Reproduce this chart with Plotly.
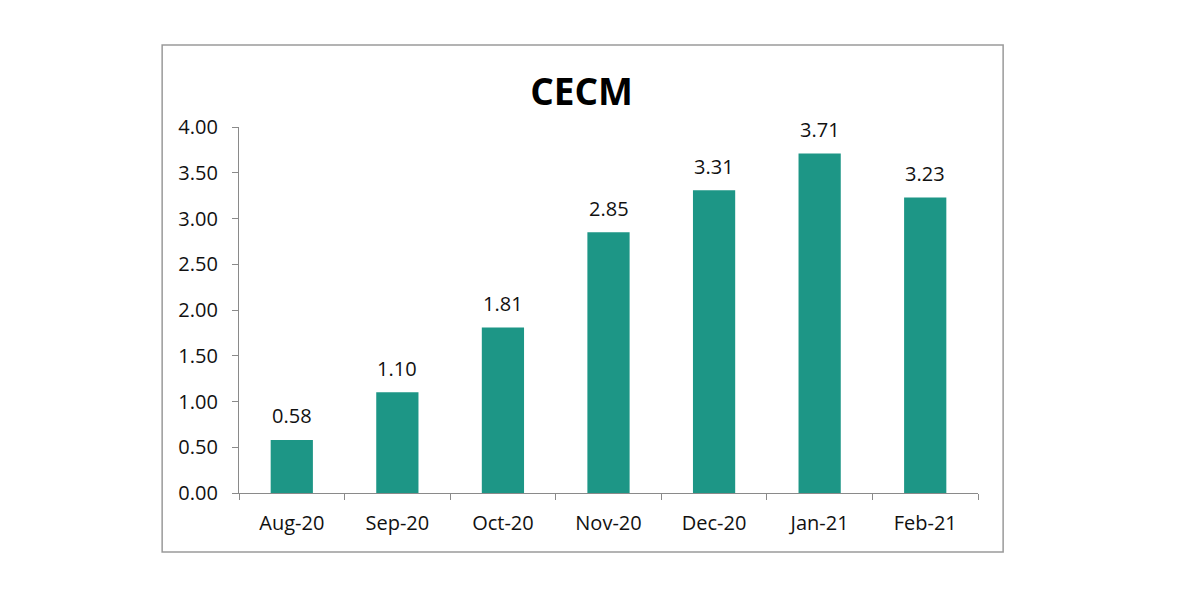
import plotly.graph_objects as go

categories = ["Aug-20", "Sep-20", "Oct-20", "Nov-20", "Dec-20", "Jan-21", "Feb-21"]
values = [0.58, 1.10, 1.81, 2.85, 3.31, 3.71, 3.23]
y_ticks = [0, 0.5, 1.0, 1.5, 2.0, 2.5, 3.0, 3.5, 4.0]

FONT = "Open Sans"
FS = 20

fig = go.Figure()
fig.add_trace(go.Bar(
    x=categories, y=values,
    marker=dict(color="#1d9686", line=dict(width=0)),
    width=0.4,
    hoverinfo="x+y",
))

for c, v in zip(categories, values):
    fig.add_annotation(x=c, y=v, text=f"{v:.2f}", showarrow=False,
                       yanchor="middle", yshift=24,
                       font=dict(family=FONT, size=FS, color="#111111"))

# outer border box
fig.add_shape(type="rect", xref="paper", yref="paper",
              x0=-0.104, x1=1.034, y0=-0.161, y1=1.224,
              line=dict(color="#9a9a9a", width=1.5), fillcolor="rgba(0,0,0,0)")

fig.update_layout(
    width=1200, height=600,
    margin=dict(l=231, r=230, t=119, b=115),
    paper_bgcolor="white", plot_bgcolor="white",
    showlegend=False,
    title=dict(text="<b>CECM</b>", x=0.478, xref="container", xanchor="center",
               y=0.86, yref="container", yanchor="middle",
               font=dict(family=FONT, size=37, color="#000000")),
    font=dict(family=FONT, size=FS, color="#111111"),
)
fig.update_xaxes(
    type="category", showline=True, linecolor="#8a8a8a", linewidth=1.3,
    ticks="outside", tickson="boundaries", ticklen=6, tickcolor="#8a8a8a",
    ticklabelstandoff=12,
    tickfont=dict(family=FONT, size=FS, color="#111111"),
    showgrid=False, zeroline=False, fixedrange=True,
)
fig.update_yaxes(
    range=[0, 4], tickvals=y_ticks, tickformat=".2f",
    showline=True, linecolor="#8a8a8a", linewidth=1.3,
    ticks="outside", ticklen=6, tickcolor="#8a8a8a",
    ticklabelstandoff=10,
    tickfont=dict(family=FONT, size=FS, color="#111111"),
    showgrid=False, zeroline=False, fixedrange=True,
)

fig.write_html("out.html")
